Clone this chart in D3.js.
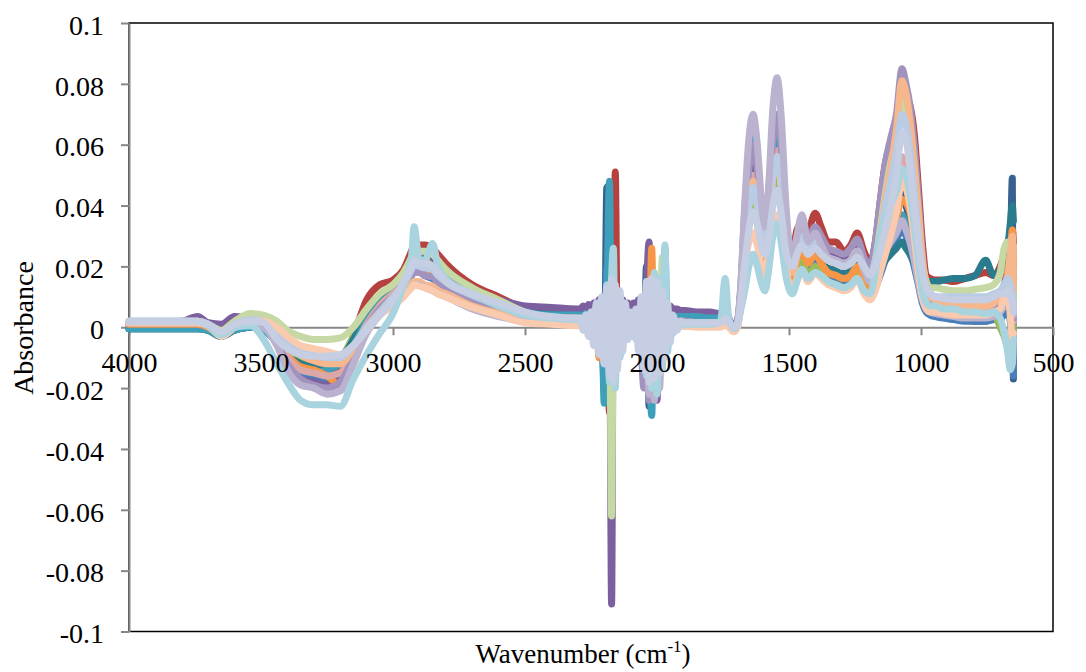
<!DOCTYPE html>
<html><head><meta charset="utf-8">
<script src="https://cdn.jsdelivr.net/npm/d3@7"></script>
<style>
body{margin:0;background:#fff}
svg{display:block}
text{font-family:"Liberation Serif","Times New Roman",serif;fill:#000}
</style>
</head><body>
<svg id="chart" width="1086" height="672"></svg>
<script>
// Wavenumber grid (cm-1), shared by every spectrum
const wavenumbers = [
 4000,3900,3800,3740,3700,3650,3600,3540,3490,3440,3400,3350,3300,3250,3200,3150,3100,3050,3000,2960,2930,2920,2900,2880,2850,2830,2800,2700,2600,2500,2400,2300,
 2290,2280,2270,2260,2250,2240,2230,2220,2210,2200, 2190,2180,2172,2165,2158,2150,2140,2130,2120,2110, 2100,2090,2080,2070,2060,2050,2040,2030,2020,2010, 2000,1990,1980,1970,1960,1950,1940,1925,1910,1895,
 1850,1800,1760,1742,1728,1708,1695,1682,1668,1652,1636,1620,1603,1591,1578,1561,1545,1530,1510,1487,1470,1451,1428,1401,1378,1352,1322,1292,1266,1242,1216,1193,1173,1155,1135,1115,1093,1072,1057,1042,1026,1010,995,980,965,945,915,875,835,795,755,725,700,685,672,662,654,650
];
// Absorbance values in units of 0.001 (milli-absorbance), one array per spectrum
const darkBlue = [
 -0.5,-0.5,-0.5,-0.5,-1,-3,-1,0,-1,-5,-10,-13,-14,-13,-11,-5,3,8,12,15,18,19,19,18,17,16,14,10,7,4,3,2.5,
 2.5,2,3,1.5,3,0,4,-6,6,-18, 46,-20,14,-8,4,-4,3,0,2,1, 2,1,2,0,3,-15,20,-26,8,-14, 10,-6,4,2,1.5,1,0.5,0.5,0.5,0.5,
 0.5,0.5,0.5,1.5,0.5,-1,1, 10,28,44,52,45,30,26, 36,56,63,54,30,19, 25,30,24,27,24,21,20,19,21,24, 18,15,18,24,30,34,38,44,40,35, 28,20,12,8,6,5,4,3,2.5,2, 2,3,5,10,18,24,49,-17];
const blue = [
 0,0,0,0,-0.5,-3,-0.5,0.5,-0.5,-5,-11,-15,-16,-17,-16,-9,1,7,11,14,17,18,18,17,16,15,13,9,6,3.5,2.5,2,
 2,1.5,2.5,1,2.5,-1,3,-5,4,-14, 20,-16,10,-6,3,-3,2,0,1.5,1, 1.5,1,1.5,-1,2,-12,14,-20,6,-10, 8,-5,3,1.5,1,1,1,1,1,1,
 0.5,0.5,0.5,1.5,0.5,-1,1, 9,25,38,44,38,26,22, 31,47,53,45,25,16, 21,25,20,23,20,17,16,15,16,19, 14,11,13,17,22,26,29,32,30,26, 20,14,8,5,4,3.5,3,2.5,2,2, 2,2.5,3,4,6,2,-8,-16];
const red = [
 1,1,1,1,0,-2.5,0,2,1,-3,-8,-13,-14,-15,-13,-3,9,14,15.5,19,25,27,27,27,26,24,21,14,10,6,4,3.5,
 3.5,3,4,3,4,2,5,-2,7,-8, 10,-28,20,8,51,-6,4,-2,4,2, 4,3,4,2,5,-6,12,-15,10,-12, 8,-6,5,3,4,3.5,3.5,3.5,3.5,3.5,
 3,3,3,4,2,-0.5,2, 12,32,50,57,50,34,29, 40,60,66,57,33,24, 32,34,32,37.5,33,28,28,25,27,31, 25,21,28,41,54,60,66,78,76,73, 64,46,28,17,16,15.5,15.5,15,16,17, 18,17,20,24,28,30,32,28];
const green = [
 1.5,1.5,1.5,1.5,0.5,-2,0.5,2,1.5,-2,-6,-10,-11,-11,-10,-3,5,10,13,16,21,23,23,22,21,20,17,12,8,4,2.5,2,
 2,1.5,2.5,1,3,-2,4,-4,5,-6, 6,-10,8,-12,4,-4,3,-1,2,1, 2,1,2,-2,3,-8,6,-12,10,-14, 8,-8,5,2,2,1.5,1.5,1.5,1.5,1.5,
 1,1,1,2,1,-1,0.5, 8,22,34,40,34,23,20, 28,44,50,42,22,14, 18,22,17,20,18,15,14,13,14,17, 12,9.5,13,20,27,33,40,50,48,42, 32,20,11,7,6,5.5,5,4.5,4,4, 4,4.5,0,-3,-6,-4,-2,0];
const darkTeal = [
 -0.5,-0.5,-0.5,-0.5,-1,-3,-1,0,-1,-4,-9,-12,-13,-13,-11,-4,4,9,13,16,20,21,21,20,19,18,16,12,8.5,5.5,4.5,4,
 4,3.5,4.5,3.5,4.5,2,5,-4,4,-20, 8,30,-10,6,-4,3,-2,4,3,4, 3,4,3,4,1,-12,16,-22,8,-16, 10,-12,14,-4,4,4,4,4,4,4,
 3.5,3.5,3.5,4,2.5,0,1.5, 11,30,45,51,45,31,26, 36,52,58,50,28,19, 25,29,23,26,23,20,19,18,19,22, 17,14,16,19,22,24,26,28,26,24, 21,18,16,15,15,15,15.5,16,16,17, 22,17,19,22,26,34,40,35];
const purple = [
 1.5,1.5,2,3.5,1.5,1,3.5,3,1,-5,-12,-17,-18,-19,-17,-9,2,9,13,17,22,24,24,24,23,21,19,12,9,7,6.5,6,
 6,7,5.5,7.5,6,8,5,9,3,10, -4,12,-91,20,-10,8,2,9,5,8, 6,8,6,9,4,-10,12,28,-18,16, -24,12,-6,8,5,7,6,6,5.5,5.5,
 5,5,4.5,5,3,0,2, 12,32,50,58,50,34,28, 38,56,64,55,31,21, 28,34,28,32,28,25,24,23,25,28, 22,19,27,38,50,56,64,76,74,70, 58,40,22,13,11,10,9,8,8,8, 8.5,9,11,14,18,14,8,2];
const teal = [
 -0.5,-0.5,-0.5,-0.5,-1,-3,-1,0,-1,-5,-10,-14,-15,-14,-12,-6,2,8,12,15,19,20,19,19,18,17,15,11,8,5,4,4,
 4,3.5,4.5,3,4,1,5,-8,6,-25, 6,48,-18,10,-6,4,-4,3,2,4, 3,4,2,4,-2,-10,10,-8,-29,14, -20,12,-10,26,-6,4,3.5,3.5,3.5,3.5,
 3.5,3,3,4,2,-0.5,1.5, 14,38,56,62,55,37,31, 44,60,65,56,32,21, 27,32,26,29,26,22,21,20,22,25, 19,15,17,22,27,30,33,37,33,29, 24,17,11,8,7,6,5,4.5,4,4, 4,5,7,10,14,18,20,14];
const orange = [
 1,1,1,1,0,-2.5,0,1,0,-4,-9,-13,-14,-16,-19,-12,0,7,11,14,18,19,19,18,17.5,16,14,10,7,4,3,3,
 3,2.5,3.5,2,3.5,-2,4,-10,4,-6, -4,14,-22,8,-4,2,0,2,1,2, 1,2,0,2,-4,-18,14,-8,26,-20, 10,-8,6,-2,2,1.5,1.5,1.5,1.5,1.5,
 1,1,1,2,1,-1,1, 10,26,40,46,40,27,23, 32,48,54,46,26,17, 22,26,21,24,21,18,17,16,17,20, 15,12,15,21,27,32,36,42,41,38, 30,19,11,7,6,5.5,5,4.5,4,4, 4.5,5,8,12,18,24,32,20];
const pink = [
 1.5,1.5,1.5,1.5,0.5,-2.5,0.5,2,1,-4,-10,-14,-15,-16,-15,-8,1,7,11,14,19,21,21,20,19,17.5,15,10,7,4,2.5,2,
 2,1,2.5,0,3,-3,4,-5,6,-9, 8,-12,10,-10,6,-8,3,-2,2,1, 2,1,1.5,-1,2,-12,8,-14,6,-12, 8,-10,6,-3,2,2,2,2,2,2,
 1.5,1.5,1.5,2.5,1,-1,1.5, 11,30,44,50,44,30,26, 36,52,58,50,28,19, 25,30,25,28,25,22,21,20,22,25, 19,16,21,29,37,44,50,56,54,48, 38,26,15,10,8,7,6.5,6,6,6, 6,7,9,12,14,12,6,2];
const mauve = [
 1.5,1.5,1.5,1.5,0.5,-2,0.5,2,0.5,-5,-12,-17,-19,-20,-18,-10,0,6,10,13,17,18,18,17,16.5,15,13,9,6,3.5,2.5,2,
 2,1.5,3,0.5,3,-3,4,-5,5,-10, -12,10,-16,8,-10,3,-2,2,1,2, 1,2,-2,3,-6,-20,12,-24,9,-22, 11,-14,8,-4,2,2,2,2,2,2,
 1.5,1.5,1.5,2.5,1,-1,1.5, 13,35,52,60,52,36,30, 42,62,70,60,34,22, 29,36,29,33,30,26,25,24,26,29, 23,20,28,41,54,62,70,85,80,73, 60,42,24,12,8,7,6,5,4.5,4, 4,5,7,10,12,10,6,3];
const lightGreen = [
 2,2,2,2,1,-1,2,4.5,4,2,-1,-3,-4,-4,-3.5,0,6,11,14,18,23,25,25,25,24,22,19,13,9,5,3,2,
 2,1.5,3,1,3.5,-2,4,-4,6,-8, -10,8,-62,6,-8,4,-3,2,1,2, 1,2,0,3,-3,-6,10,-14,8,-18, 12,-12,23,-8,3,2,2,1.5,1.5,1.5,
 1.5,1.5,1.5,2.5,1,-1,1, 10,28,40,44,40,28,25, 35,50,55,47,26,18, 24,28,24,27,25,22,21,20,22,25, 19,16,22,32,44,54,62,75,72,64, 52,36,22,15,13,13,12.5,12,12,12.5, 13,14,18,26,28,28,22,6];
const peach = [
 1.5,1.5,1.5,1.5,0.5,-3,0,2,2,-1,-5,-9,-11,-12,-12,-7,0,5,8,11,14,15,15,14,13.5,12,11,7,4.5,2,1.5,1,
 1,0.5,2,-1,2.5,-3,3,-6,4,-8, 6,-10,6,-12,5,-6,2,-3,1,0.5, 1,0,1,-2,2,-10,6,-12,5,-10, 6,-8,4,-2,1,1,1,1,1,1,
 0.5,0.5,0.5,1.5,0.5,-1,1, 10,28,42,48,42,28,24, 32,50,56,48,27,18, 24,29,24,28,25,22,21,20,22,25, 19,16,20,30,42,52,65,81,77,68, 54,38,22,13,10,9,8,7.5,7,7, 7,8,10,14,16,24,30,12];
const paleBlue = [
 2,2,2,2,1,-1.5,1,2.5,2,-1,-5,-8,-9,-10,-10,-6,0,5,10,14,19,20.5,20,19.5,19,17,15,10.5,7.5,4.5,3,2.5,
 2.5,0.5,3,-1,3.5,-4,5,-6,7,-9, 10,-12,12,-14,10,-10,8,-4,5,-2, 3,-1,4,-5,7,-10,11,-14,12,-13, 11,-10,8,-6,5,-3,3,1,2,1.5,
 1.5,1.5,1.5,3,1.5,0,1, 10,26,40,46,40,28,25, 34,50,56,47,27,20, 26,30,26,29,26,23,22,21,22,25, 20,17,22,30,40,48,58,70,67,58, 45,30,18,13,11,10,10,10,10,10, 10,11,12,14,16,14,10,6];
const lavender = [
 1.5,1.5,1.5,1.5,0.5,-2,0.5,1.5,0,-6,-14,-19,-20,-22,-21,-12,-2,4,8,11,13,14,14,13,12,11,10,6,3.5,2,1.5,1,
 1,0.5,2,-0.5,2,-3,3,-4,4,-10, 6,-14,6,-12,2,-6,2,-2,1.5,1, 1.5,1,1.5,-2,3,-14,8,-22,6,-24, 7,-20,6,-4,2,1.5,1.5,1,1,1,
 1,1,1,2,1,-0.5,2, 15,40,62,70,60,40,33, 45,72,82,70,38,22, 30,37,28,31,27,23,22,21,22,25, 19,15,17,21,25,28,31,35,32,28, 22,15,9,6,5,4.5,4,3.5,3,3, 3,3.5,5,7,9,8,6,4];
const lightPeach = [
 1.5,1.5,1.5,1.5,0.5,-3,0,2,2,0,-3,-6,-7,-8,-9,-6,-1,4,7,10,13,14,13.5,13,12,11,10,6.5,4,1.5,1,0.5,
 0.5,0,1.5,-1,2,-2,2.5,-3,3,-6, 4,-8,5,-10,3,-4,1,-2,0.5,0, 0.5,0,0.5,-2,1,-6,3,-8,3,-6, 4,-5,2,-1,0.5,0.5,0.5,0.5,0.5,0.5,
 0,0,0,1,0,-1.5,0, 8,20,28,31,27,19,17, 24,33,37,31,18,13, 16,19,15,18,16,14,13,12,13,16, 11,9,12,18,24,30,38,48,46,40, 30,18,10,6,5,5,4.5,4,4,4, 4,5,6,10,12,4,-4,-2];
const lightBlue = [
 2,2,2,2,0.5,-2.5,0,0.5,-4,-12,-18,-24,-25.5,-25.5,-26,-17,-9,-2,4.5,14,23,33,22,22,27.5,20,16,11,7,4,3,2.5,
 2.5,0,4,-2,5,-5,7,-8,9,-12, 14,-18,16,26,-20,10,-10,6,-4,3, -2,3,-4,6,-8,10,-16,15,-20,18, -22,16,-14,27,-8,4,-2,2,1,1,
 1,1,1.5,16,3,-0.5,1, 6,12,20,24,20,14,12, 18,30,34,28,16,11, 15,19,16,18,17,15,14,13,14,16, 12,11,18,30,36,40,45,52,50,44, 34,22,12,8,7,7,6,6,5,5, 4.5,5,3,-2,-8,-14,-12,-4];
const steelBlue = [
 2,2,2,2,1,-1.5,1,2,1.5,-4,-7,-9,-9.5,-9.5,-9,-6,-1,4,9,15,20,22,21,21,20,18,15,11,8,5,3.5,3,
 3,-1,4,-3,5,-6,8,-9,10,-12, 13,-16,16,-18,14,-14,12,-8,8,-4, 5,-3,6,-8,10,-14,15,-18,16,-17, 15,-15,12,-10,8,-5,4,-1,2,1.5,
 1.5,1.5,1.5,3,1.5,0,1, 8,20,32,38,34,26,24, 28,40,45,38,24,20, 24,27,24,26,24,22,21,20,21,23, 20,17,20,25,32,40,50,64,62,52, 40,28,18,13,11,10,9.5,9,9,9, 9,10,11,11,12,10,8,5];

// drawing order: first listed is drawn first (underneath)
const seriesValues = [darkBlue, blue, red, green, darkTeal, purple, teal, orange, pink, mauve, lightGreen, peach, paleBlue, lavender, lightPeach, lightBlue, steelBlue];
const seriesColors = ["#386190","#4A7EBB","#B5423E","#9BBB59","#2B7B8F","#7C5F9F","#3E9FBA","#F79646","#DCA8A7","#A193BE","#C6D9A5","#F6B78D","#B9CCE4","#BBB2CF","#F9CAAE","#A9D4DF","#C5CEE2"];
const xTicks = [4000,3500,3000,2500,2000,1500,1000,500];
const yTicks = [-0.1,-0.08,-0.06,-0.04,-0.02,0,0.02,0.04,0.06,0.08,0.1];
const xTitle = "Wavenumber (cm";
const yTitle = "Absorbance";

const L = 129, R = 1053, T = 23, B = 631.5;
const x = d3.scaleLinear().domain([4000, 500]).range([L, R]);
const y = d3.scaleLinear().domain([-0.1, 0.1]).range([B, T]);
const svg = d3.select("#chart");

// plot frame
svg.append("rect").attr("x", L).attr("y", T).attr("width", R - L).attr("height", B - T)
  .attr("fill", "none").attr("stroke", "#000").attr("stroke-width", 1.5);

const fmt = d => String(+d.toFixed(2));
const grey = "#878787";

// axis lines and tick marks (below data)
const yAxisLines = svg.append("g").attr("transform", `translate(${L},0)`)
  .call(d3.axisLeft(y).tickValues(yTicks).tickSize(8).tickSizeOuter(0).tickFormat(""));
const xAxisLines = svg.append("g").attr("transform", `translate(0,${y(0)})`)
  .call(d3.axisBottom(x).tickValues(xTicks).tickSize(8).tickSizeOuter(0).tickFormat(""));
[yAxisLines, xAxisLines].forEach(g => {
  g.select(".domain").attr("stroke", grey).attr("stroke-width", 2);
  g.selectAll(".tick line").attr("stroke", grey).attr("stroke-width", 2);
});

// spectra
const line = d3.line()
  .x((d, i) => x(wavenumbers[i]))
  .y(d => y(d / 1000))
  .curve(d3.curveMonotoneX);
svg.append("g").selectAll("path").data(seriesValues).join("path")
  .attr("d", d => line(d))
  .attr("fill", "none")
  .attr("stroke", (d, i) => seriesColors[i])
  .attr("stroke-width", 7)
  .attr("stroke-linejoin", "round")
  .attr("stroke-linecap", "round");

// tick labels (above data)
const yLab = svg.append("g").attr("transform", `translate(${L},0)`)
  .call(d3.axisLeft(y).tickValues(yTicks).tickSize(8).tickPadding(17).tickFormat(fmt));
const xLab = svg.append("g").attr("transform", `translate(0,${y(0)})`)
  .call(d3.axisBottom(x).tickValues(xTicks).tickSize(8).tickPadding(17).tickFormat(d3.format("d")));
[yLab, xLab].forEach(g => {
  g.select(".domain").remove();
  g.selectAll(".tick line").remove();
  g.selectAll("text").attr("font-family", '"Liberation Serif","Times New Roman",serif')
    .attr("font-size", 28).attr("fill", "#000");
});
yLab.selectAll("text").attr("dy", "0.4em");

// axis titles
const xt = svg.append("text").attr("x", 583).attr("y", 663).attr("text-anchor", "middle")
  .attr("font-size", 27);
xt.append("tspan").text(xTitle);
xt.append("tspan").attr("font-size", 17).attr("dy", -11).text("-1");
xt.append("tspan").attr("dy", 11).text(")");

svg.append("text").attr("transform", "translate(33,328) rotate(-90)")
  .attr("text-anchor", "middle").attr("font-size", 28).text(yTitle);
</script>
</body></html>
